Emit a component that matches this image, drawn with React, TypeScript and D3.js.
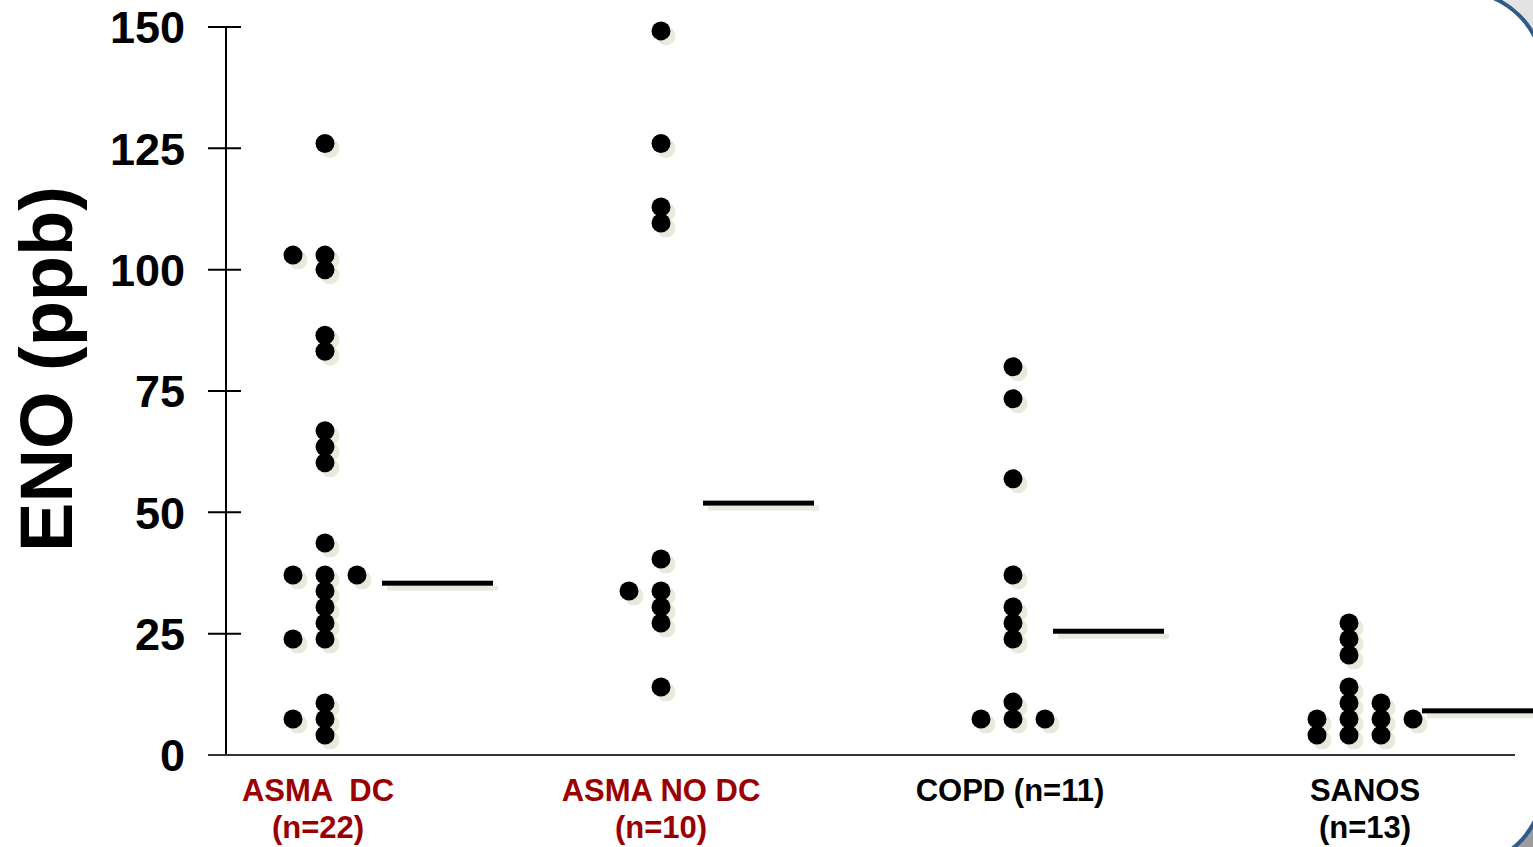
import React from "react";
import * as d3 from "d3";

const categories = ["ASMA DC", "ASMA NO DC", "COPD", "SANOS"];
const labelLine1 = ["ASMA  DC", "ASMA NO DC", "COPD (n=11)", "SANOS"];
const labelLine2 = ["(n=22)", "(n=10)", "", "(n=13)"];
const labelIsRed = [true, true, false, false];

// each point: [value, column offset within group]
const asmaDC: [number, number][] = [
  [126, 0], [103, -1], [103, 0], [100, 0], [86.5, 0], [83.2, 0], [66.8, 0], [63.5, 0], [60.2, 0],
  [43.7, 0], [37.1, -1], [37.1, 0], [37.1, 1], [33.8, 0], [30.5, 0], [27.2, 0], [23.9, -1], [23.9, 0],
  [10.7, 0], [7.4, -1], [7.4, 0], [4.1, 0],
];
const asmaNoDC: [number, number][] = [
  [149.2, 0], [126, 0], [112.9, 0], [109.6, 0], [40.4, 0], [33.8, -1], [33.8, 0], [30.5, 0], [27.2, 0], [14, 0],
];
const copd: [number, number][] = [
  [80, 0], [73.4, 0], [56.9, 0], [37.1, 0], [30.5, 0], [27.2, 0], [23.9, 0], [10.9, 0], [7.4, -1], [7.4, 0], [7.4, 1],
];
const sanos: [number, number][] = [
  [27.2, 0], [23.9, 0], [20.6, 0], [14, 0], [10.7, 0], [7.4, 0], [4.1, 0],
  [7.4, -1], [4.1, -1], [10.7, 1], [7.4, 1], [4.1, 1], [7.4, 2],
];
const groups = [asmaDC, asmaNoDC, copd, sanos];
const means = [35.4, 51.9, 25.5, 9.1];
const yTicks = [0, 25, 50, 75, 100, 125, 150];

const W = 1533;
const H = 847;

export default function App() {
  const y = d3.scaleLinear().domain([0, 150]).range([755, 27]);
  const x = d3.scaleOrdinal<string, number>().domain(categories).range([325, 661, 1013, 1349]);
  const xMean = d3.scaleOrdinal<string, number>().domain(categories).range([382, 703, 1053, 1422]);
  const xLabel = d3.scaleOrdinal<string, number>().domain(categories).range([318, 661, 1010, 1365]);
  const colW = 32;
  const r = 9.5;
  const sh = 5;
  const meanLen = 111;
  const shadow = "#ebe8dc";
  const font = "'Liberation Sans', Arial, sans-serif";
  const axisX = 226;

  const pts = groups.flatMap((g, gi) =>
    g.map(([v, c]) => ({ cx: x(categories[gi]) + c * colW, cy: y(v) }))
  );

  return (
    <svg width={W} height={H} style={{ position: "absolute", left: 0, top: 0 }} fontFamily={font}>
      <defs>
        <linearGradient id="bg" x1="0" y1="0" x2="0" y2="1">
          <stop offset="0" stopColor="#e4e4e4" />
          <stop offset="0.5" stopColor="#b8b8b8" />
          <stop offset="1" stopColor="#9c9c9c" />
        </linearGradient>
      </defs>
      <rect x={0} y={0} width={W} height={H} fill="url(#bg)" />
      <rect x={-300} y={-9} width={1844} height={876} rx={84} ry={84} fill="#ffffff" stroke="#2e5b8e" strokeWidth={4} />

      {/* y axis */}
      <line x1={axisX} x2={axisX} y1={y(150)} y2={y(0)} stroke="#000" strokeWidth={2} />
      {yTicks.map((t) => (
        <g key={t}>
          <line x1={208} x2={241} y1={y(t)} y2={y(t)} stroke="#000" strokeWidth={2} />
          <text x={185} y={y(t)} dy="0.36em" textAnchor="end" fontSize={45} fontWeight="bold" fill="#000">
            {t}
          </text>
        </g>
      ))}
      {/* x axis baseline */}
      <line x1={208} x2={1515} y1={y(0)} y2={y(0)} stroke="#333" strokeWidth={2} />

      <text
        transform={`translate(72, 369) rotate(-90)`}
        textAnchor="middle"
        fontSize={74}
        fontWeight="bold"
        fill="#000"
      >
        ENO (ppb)
      </text>

      {/* shadows */}
      {pts.map((p, i) => (
        <circle key={"s" + i} cx={p.cx + sh} cy={p.cy + sh} r={r} fill={shadow} />
      ))}
      {means.map((m, i) => (
        <rect key={"ms" + i} x={xMean(categories[i]) + sh} y={y(m) - 2.5 + sh} width={meanLen} height={5} fill={shadow} />
      ))}
      {/* dots */}
      {pts.map((p, i) => (
        <circle key={"d" + i} cx={p.cx} cy={p.cy} r={r} fill="#000" />
      ))}
      {means.map((m, i) => (
        <rect key={"m" + i} x={xMean(categories[i])} y={y(m) - 2.5} width={meanLen} height={5} fill="#000" />
      ))}

      {/* category labels */}
      {categories.map((c, i) => {
        const cx = xLabel(c);
        const fill = labelIsRed[i] ? "#9b0000" : "#000";
        return (
          <g key={c} fontSize={31} fontWeight="bold" fill={fill} textAnchor="middle">
            <text x={cx} y={801} style={{ whiteSpace: "pre" }}>{labelLine1[i]}</text>
            {labelLine2[i] && (
              <text x={cx} y={838}>
                {labelLine2[i]}
              </text>
            )}
          </g>
        );
      })}
    </svg>
  );
}
